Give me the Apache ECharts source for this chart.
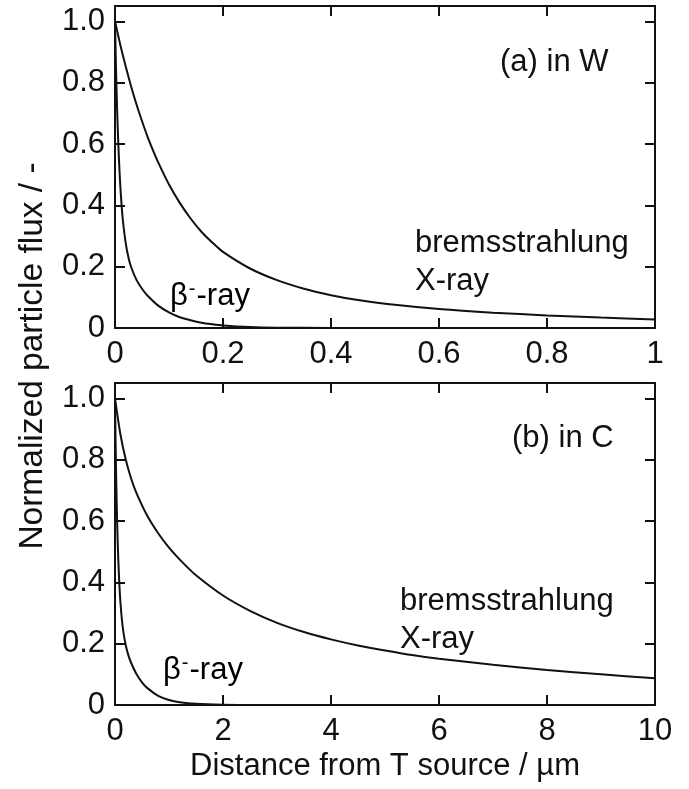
<!DOCTYPE html>
<html>
<head>
<meta charset="utf-8">
<script src="https://cdn.jsdelivr.net/npm/echarts@6/dist/echarts.min.js"></script>
<style>
  html, body { margin: 0; padding: 0; background: #fff; }
  #chart { width: 689px; height: 789px; }
</style>
</head>
<body>
<div id="chart"></div>
<script>
// Particle flux attenuation: (a) tungsten, (b) carbon
const xW = [0, 0.01, 0.02, 0.03, 0.04, 0.05, 0.06, 0.07, 0.08, 0.1, 0.12, 0.14, 0.16, 0.18, 0.2, 0.25, 0.3, 0.35, 0.4, 0.45, 0.5, 0.6, 0.7, 0.8, 0.9, 1.0];
const bremsW = [1.0, 0.922, 0.852, 0.787, 0.728, 0.675, 0.625, 0.581, 0.54, 0.468, 0.408, 0.357, 0.314, 0.279, 0.248, 0.194, 0.156, 0.128, 0.107, 0.091, 0.079, 0.062, 0.05, 0.041, 0.034, 0.028];

const xBetaW = [0, 0.002, 0.004, 0.006, 0.008, 0.01, 0.0125, 0.015, 0.02, 0.025, 0.03, 0.04, 0.05, 0.06, 0.08, 0.1, 0.12, 0.14, 0.16, 0.18, 0.2, 0.25, 0.3, 0.4, 0.5];
const betaW = [1.0, 0.837, 0.708, 0.606, 0.524, 0.458, 0.394, 0.344, 0.275, 0.229, 0.198, 0.156, 0.128, 0.106, 0.073, 0.051, 0.035, 0.025, 0.017, 0.012, 0.008, 0.003, 0.001, 0.0002, 0];

const xC = [0, 0.1, 0.2, 0.3, 0.4, 0.6, 0.8, 1.0, 1.25, 1.5, 2.0, 2.5, 3.0, 3.5, 4.0, 4.5, 5.0, 5.5, 6.0, 7.0, 8.0, 9.0, 10.0];
const bremsC = [1.0, 0.883, 0.8, 0.738, 0.69, 0.616, 0.56, 0.513, 0.465, 0.423, 0.357, 0.307, 0.268, 0.238, 0.214, 0.194, 0.178, 0.163, 0.151, 0.131, 0.114, 0.1, 0.087];

const xBetaC = [0, 0.01, 0.02, 0.03, 0.045, 0.06, 0.08, 0.1, 0.13, 0.16, 0.2, 0.25, 0.3, 0.4, 0.5, 0.6, 0.8, 1.0, 1.2, 1.5, 2.0, 2.5, 3.0];
const betaC = [1.0, 0.869, 0.76, 0.67, 0.562, 0.479, 0.396, 0.336, 0.274, 0.233, 0.194, 0.161, 0.137, 0.1, 0.074, 0.055, 0.03, 0.0165, 0.009, 0.0037, 0.0008, 0.0002, 0];

const yTicks = ['0', '0.2', '0.4', '0.6', '0.8', '1.0'];

const FONT = '"Liberation Sans", Arial, sans-serif';
const FS = 31;
const INK = '#111';

function pairs(xs, ys) { return xs.map((x, i) => [x, ys[i]]); }

const grids = [
  { left: 115, top: 6, width: 540, height: 322 },
  { left: 115, top: 383, width: 540, height: 322 }
];

const lineAxis = { onZero: false, lineStyle: { color: INK, width: 2 } };
const tickIn = { inside: true, length: 10, lineStyle: { color: INK, width: 2 } };

function xAxes(gi, max, interval, withName) {
  const main = {
    type: 'value', gridIndex: gi, min: 0, max: max, interval: interval,
    position: 'bottom', axisLine: lineAxis, axisTick: tickIn, splitLine: { show: false },
    axisLabel: { fontFamily: FONT, fontSize: FS, color: INK, margin: 11 }
  };
  if (withName) {
    main.name = 'Distance from T source / µm';
    main.nameLocation = 'middle';
    main.nameGap = 46;
    main.nameTextStyle = { fontFamily: FONT, fontSize: FS, color: INK };
  }
  const top = {
    type: 'value', gridIndex: gi, min: 0, max: max, interval: interval,
    position: 'top', axisLine: lineAxis, axisTick: tickIn, splitLine: { show: false },
    axisLabel: { show: false }
  };
  return [main, top];
}

function yAxes(gi) {
  const left = {
    type: 'value', gridIndex: gi, min: 0, max: 1.05, interval: 0.2,
    position: 'left', axisLine: lineAxis, axisTick: tickIn, splitLine: { show: false },
    axisLabel: {
      fontFamily: FONT, fontSize: FS, color: INK, margin: 10, showMaxLabel: false,
      formatter: v => { const i = Math.round(v / 0.2); return Math.abs(v - i * 0.2) < 1e-6 ? yTicks[i] : ''; }
    }
  };
  const right = {
    type: 'value', gridIndex: gi, min: 0, max: 1.05, interval: 0.2,
    position: 'right', axisLine: lineAxis, axisTick: tickIn, splitLine: { show: false },
    axisLabel: { show: false }
  };
  return [left, right];
}

const lineStyle = { color: INK, width: 2 };
function curve(xi, yi, data) {
  return {
    type: 'line', xAxisIndex: xi, yAxisIndex: yi, data: data, showSymbol: false,
    smooth: 0.25, lineStyle: lineStyle, clip: true, silent: true
  };
}

const txt = { fontFamily: FONT, fontSize: FS, fill: INK };
function label(x, y, text) {
  return { type: 'text', left: x, top: y, style: Object.assign({ text: text }, txt) };
}
function betaLabel(x, y) {
  return {
    type: 'text', left: x, top: y,
    style: {
      text: '{b|β}{s|-}{b|-ray}',
      rich: {
        b: { fontFamily: FONT, fontSize: FS, color: INK },
        s: { fontFamily: FONT, fontSize: 20, color: INK, verticalAlign: 'top', padding: [0, 1, 14, 1] }
      }
    }
  };
}

const chart = echarts.init(document.getElementById('chart'), null, { renderer: 'canvas' });
chart.setOption({
  backgroundColor: '#fff',
  animation: false,
  grid: grids,
  xAxis: [...xAxes(0, 1, 0.2, false), ...xAxes(1, 10, 2, true)],
  yAxis: [...yAxes(0), ...yAxes(1)],
  series: [
    curve(0, 0, pairs(xW, bremsW)),
    curve(0, 0, pairs(xBetaW, betaW)),
    curve(2, 2, pairs(xC, bremsC)),
    curve(2, 2, pairs(xBetaC, betaC))
  ],
  graphic: [
    {
      type: 'text', x: 33, y: 356, rotation: Math.PI / 2,
      style: Object.assign({ text: 'Normalized particle flux / -', align: 'center', verticalAlign: 'middle' }, txt, { fontSize: 33.5 })
    },
    label(500, 47, '(a) in W'),
    label(415, 228, 'bremsstrahlung'),
    label(415, 266, 'X-ray'),
    betaLabel(170, 279),
    label(512, 423, '(b) in C'),
    label(400, 586, 'bremsstrahlung'),
    label(400, 624, 'X-ray'),
    betaLabel(163, 653)
  ]
});
</script>
</body>
</html>
